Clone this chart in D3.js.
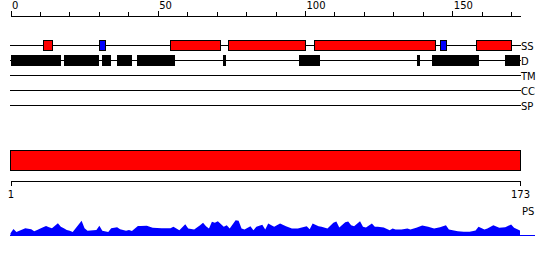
<!DOCTYPE html>
<meta charset="utf-8">
<style>
body { margin: 0; background: #fff; }
text { font-family: "DejaVu Sans", sans-serif; font-size: 10px; }
</style>
<body>
<div id="box1"></div>
</body>
<script src="https://d3js.org/d3.v7.min.js"></script>
<script>

var width = 550, height = 260;
var seqLength = 173;

// track names, top to bottom
var tracks = ["SS", "D", "TM", "CC", "SP"];

// secondary structure: start, end, type (H = helix, E = strand)
var ssStart = [11, 30, 54, 74, 103, 146, 158];
var ssEnd   = [14, 32, 71, 100, 144, 148, 170];
var ssType  = ["H", "E", "H", "H", "H", "E", "H"];

// disorder segments
var dStart = [0, 18, 31, 36, 43, 72, 98, 138, 143, 168];
var dEnd   = [17, 30, 34, 41, 56, 73, 105, 139, 159, 173];

// PS profile (residue, value)
var psPos = [1, 2, 3, 4, 6, 8, 9, 10, 12, 13, 14, 15, 17, 18, 19, 20, 21, 22, 23, 25, 26, 27, 30, 31, 32, 34, 35, 37, 38, 40, 41, 42, 44, 45, 47, 49, 52, 55, 56, 58, 60, 61, 63, 65, 66, 67, 68, 69, 70, 71, 73, 74, 75, 77, 78, 79, 80, 82, 83, 84, 86, 87, 88, 90, 92, 94, 96, 98, 101, 102, 103, 105, 106, 108, 110, 111, 112, 114, 115, 116, 117, 119, 120, 121, 123, 124, 125, 127, 129, 130, 131, 133, 135, 136, 138, 140, 142, 144, 146, 148, 149, 152, 154, 156, 158, 159, 161, 162, 164, 166, 168, 170, 171, 173];
var psVal = [2.2, 6.5, 3.5, 4.8, 7.2, 6.2, 4.2, 5.5, 8.2, 9.5, 8.2, 7.2, 12.2, 8.8, 7.2, 5.5, 4.8, 3.5, 7.2, 14.8, 7.2, 4.8, 5.5, 9.8, 4.8, 3.5, 7.2, 8.2, 6.2, 4.8, 5.5, 4.5, 9.5, 9.5, 9.7, 7.7, 7.3, 7.3, 8.7, 5.3, 11.3, 7, 6, 10.3, 12.7, 9.3, 7, 13.7, 12.7, 14.3, 8.7, 10.3, 7, 15.3, 14.7, 7, 6, 9.3, 5.3, 8.7, 10.7, 6, 12, 8.7, 12, 9.3, 7, 7, 9.3, 6.3, 12, 9.3, 8.7, 7, 12.7, 14, 8, 13.3, 14, 10.3, 9.3, 14.3, 8.7, 8, 12, 8.7, 8.7, 8, 5.3, 7, 6, 6, 7, 6, 7.7, 10, 8.7, 7, 8.3, 10.3, 6, 4.3, 3.7, 3.7, 5, 8.7, 6, 7, 10.3, 7.7, 8.3, 11, 7.7, 5];

var ssColor = {H: "#ff0000", E: "#0000ff"};

var x = d3.scaleLinear().domain([0, seqLength]).range([10.5, 520]);
var pos = d3.scaleLinear().domain([1, seqLength]).range([10.5, 520]);
var trackY = d3.scalePoint().domain(tracks).range([45.5, 105.5]);
var psY = d3.scaleLinear().domain([0, 20]).range([235.5, 215.5]);

var svg = d3.select("#box1").append("svg")
    .attr("width", width)
    .attr("height", height);

// top ruler
var topAxis = svg.append("g")
    .attr("transform", "translate(0,15.5)")
    .call(d3.axisTop(x)
      .tickValues(d3.range(0, 171, 10))
      .tickSize(4)
      .tickSizeOuter(0)
      .tickFormat(d => d % 50 === 0 ? d : ""));
topAxis.select(".domain").attr("shape-rendering", "crispEdges");
topAxis.selectAll(".tick line").attr("shape-rendering", "crispEdges")
    .attr("y2", d => d % 50 === 0 ? -5 : -4);
topAxis.selectAll(".tick text")
    .attr("text-anchor", "start")
    .attr("x", 1)
    .attr("y", -6.5)
    .attr("font-family", null)
    .attr("font-size", null);

// track lines + labels
svg.append("g").selectAll("line")
  .data(tracks)
  .join("line")
    .attr("x1", 10).attr("x2", 520.5)
    .attr("y1", d => trackY(d)).attr("y2", d => trackY(d))
    .attr("stroke", "#000")
    .attr("shape-rendering", "crispEdges");

svg.append("g").selectAll("text")
  .data(tracks)
  .join("text")
    .attr("x", 521)
    .attr("y", d => trackY(d) + 4)
    .text(d => d);

// secondary structure boxes
svg.append("g").selectAll("rect")
  .data(ssStart)
  .join("rect")
    .attr("x", (d, i) => Math.round(x(d)) + 0.5)
    .attr("y", trackY("SS") - 5)
    .attr("width", (d, i) => Math.round(x(ssEnd[i]) - x(d)))
    .attr("height", 10)
    .attr("fill", (d, i) => ssColor[ssType[i]])
    .attr("stroke", "#000")
    .attr("shape-rendering", "crispEdges");

// disorder boxes
svg.append("g").selectAll("rect")
  .data(dStart)
  .join("rect")
    .attr("x", d => Math.round(x(d)))
    .attr("y", trackY("D") - 5.5)
    .attr("width", (d, i) => Math.max(3, Math.round(x(dEnd[i]) - x(d))))
    .attr("height", 11)
    .attr("fill", "#000")
    .attr("shape-rendering", "crispEdges");

// full length domain bar
svg.append("rect")
    .attr("x", pos(1))
    .attr("y", 150.5)
    .attr("width", pos(seqLength) - pos(1))
    .attr("height", 20)
    .attr("fill", "#ff0000")
    .attr("stroke", "#000")
    .attr("shape-rendering", "crispEdges");

// bottom ruler
var botAxis = svg.append("g")
    .attr("transform", "translate(0,180.5)")
    .call(d3.axisBottom(pos)
      .tickValues([1, seqLength])
      .tickSize(5)
      .tickSizeOuter(0));
botAxis.selectAll("line, path").attr("shape-rendering", "crispEdges");
botAxis.selectAll(".tick text")
    .attr("y", 10)
    .attr("font-family", null)
    .attr("font-size", null);

svg.append("text")
    .attr("x", 522)
    .attr("y", 215)
    .text("PS");

// PS profile
var psData = psPos.map((p, i) => ({p: p, v: psVal[i]}));

svg.append("path")
    .datum(psData)
    .attr("fill", "#0000ff")
    .attr("d", d3.area()
      .x(d => pos(d.p))
      .y0(psY(0))
      .y1(d => psY(d.v)));

svg.append("line")
    .attr("x1", 10).attr("x2", 535)
    .attr("y1", psY(0)).attr("y2", psY(0))
    .attr("stroke", "#0000ff")
    .attr("shape-rendering", "crispEdges");

</script>
